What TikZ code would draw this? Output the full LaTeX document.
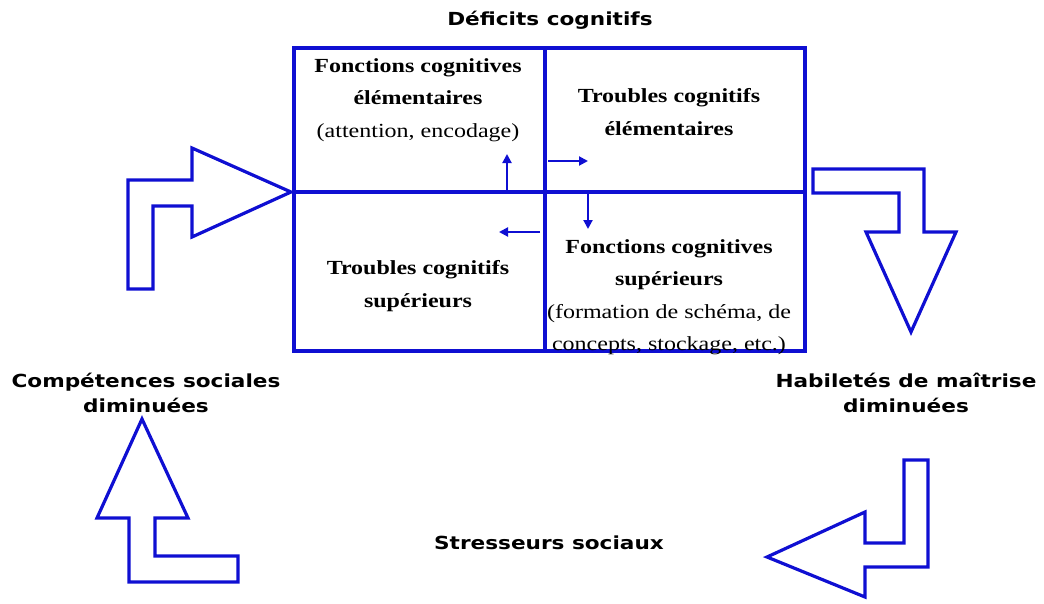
\documentclass[tikz,border=0pt]{standalone}
\usepackage{fontspec}
\setmainfont{Liberation Serif}[FakeStretch=1.2]
\newfontfamily\labfont{DejaVu Sans}[FakeStretch=1.2]
\usetikzlibrary{arrows.meta}
\definecolor{bl}{RGB}{15,15,210}
\begin{document}
\begin{tikzpicture}[x=1pt,y=-1pt,
  frame/.style={draw=bl, line width=3.2pt},
  bigarrow/.style={draw=bl, line width=3.2pt, line join=miter, fill=white},
  smallarrow/.style={draw=bl, line width=2pt, -{Triangle[length=9pt,width=9pt]}},
  cell/.style={font=\fontsize{20}{32.5}\selectfont, align=center, inner sep=0pt},
  lab/.style={font=\labfont\bfseries\fontsize{18}{25}\selectfont, align=center, inner sep=0pt}]
\useasboundingbox (0,0) rectangle (1044,603);

% main box
\coordinate (tl) at (294,48);
\coordinate (br) at (805,351);
\coordinate (mt) at (545,48);
\coordinate (mb) at (545,351);
\coordinate (ml) at (294,192);
\coordinate (mr) at (805,192);
\draw[frame] (tl) rectangle (br);
\draw[frame] (mt) -- (mb);
\draw[frame] (ml) -- (mr);

% cell texts
\node[cell] (c1) at (418,100) {\textbf{Fonctions cognitives}\\\textbf{élémentaires}\\(attention, encodage)};
\node[cell] (c2) at (669,112) {\textbf{Troubles cognitifs}\\\textbf{élémentaires}};
\node[cell] (c3) at (418,286) {\textbf{Troubles cognitifs}\\\textbf{supérieurs}};
\node[cell] (c4) at (669,297) {\textbf{Fonctions cognitives}\\\textbf{supérieurs}\\(formation de schéma, de\\concepts, stockage, etc.)};

% small arrows
\coordinate (a1s) at (507,192); \coordinate (a1e) at (507,154);
\coordinate (a2s) at (548,161); \coordinate (a2e) at (588,161);
\coordinate (a3s) at (588,192); \coordinate (a3e) at (588,229);
\coordinate (a4s) at (540,232); \coordinate (a4e) at (499,232);
\draw[smallarrow] (a1s) -- (a1e);
\draw[smallarrow] (a2s) -- (a2e);
\draw[smallarrow] (a3s) -- (a3e);
\draw[smallarrow] (a4s) -- (a4e);

% labels
\node[lab] (top) at (550,20) {Déficits cognitifs};
\node[lab] (left) at (146,393) {Compétences sociales\\diminuées};
\node[lab] (right) at (906,393) {Habiletés de maîtrise\\diminuées};
\node[lab] (bottom) at (549,543) {Stresseurs sociaux};

% big arrows
\draw[bigarrow] (128,289) -- (128,180) -- (192,180) -- (192,148) -- (291,192)
  -- (192,237) -- (192,206) -- (153,206) -- (153,289) -- cycle;
\draw[bigarrow] (813,169) -- (924,169) -- (924,232) -- (956,232) -- (911,332)
  -- (866,232) -- (899,232) -- (899,193) -- (813,193) -- cycle;
\draw[bigarrow] (142,419) -- (188,518) -- (155,518) -- (155,556) -- (238,556)
  -- (238,582) -- (129,582) -- (129,518) -- (97,518) -- cycle;
\draw[bigarrow] (904,460) -- (928,460) -- (928,567) -- (865,567) -- (865,597)
  -- (767,557) -- (865,512) -- (865,543) -- (904,543) -- cycle;
\end{tikzpicture}
\end{document}
